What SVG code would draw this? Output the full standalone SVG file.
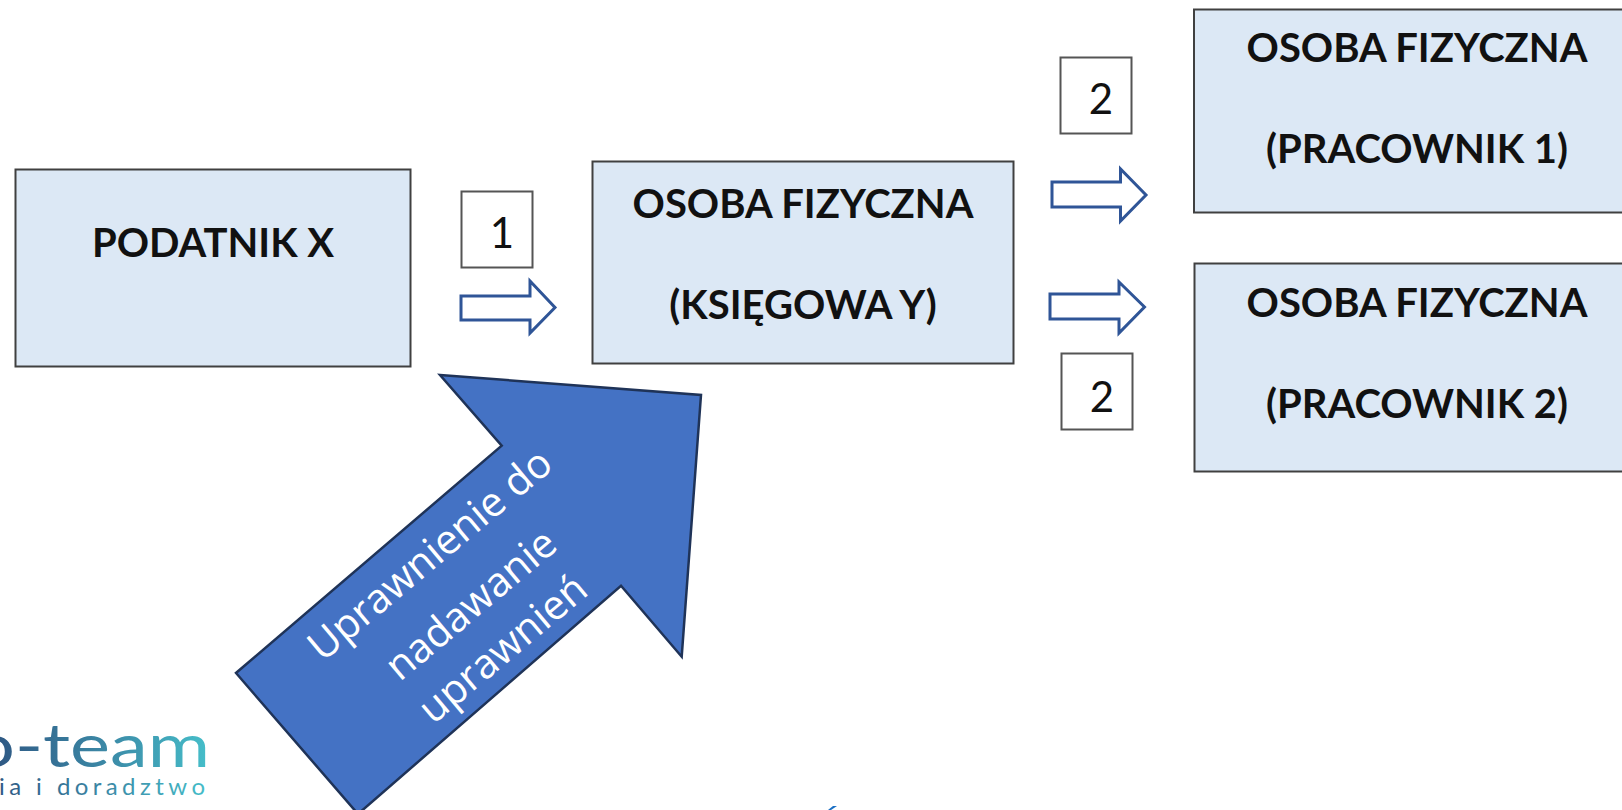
<svg xmlns="http://www.w3.org/2000/svg" width="1622" height="810" viewBox="0 0 1622 810">
<style>
.box{fill:#dce8f5;stroke:#404040;stroke-width:2}
.num{fill:#fff;stroke:#555;stroke-width:2}
.t{font-family:Lato,"Liberation Sans",sans-serif;font-weight:700;font-size:40px;fill:#111;text-anchor:middle}
.n{font-family:Lato,"Liberation Sans",sans-serif;font-size:42px;fill:#111;text-anchor:middle}
.arr{fill:#fff;stroke:#2f5597;stroke-width:3}
.w{font-family:"Open Sans","Liberation Sans",sans-serif;font-size:41px;fill:#fff;text-anchor:middle}
.l{font-family:Lato,"Noto Sans",sans-serif;fill:url(#lg)}
</style>
<defs>
<linearGradient id="lg" gradientUnits="userSpaceOnUse" x1="0" y1="0" x2="205" y2="0">
<stop offset="0" stop-color="#2f5a85"/><stop offset="0.5" stop-color="#3b87a5"/><stop offset="1" stop-color="#45bcc8"/>
</linearGradient>
</defs>
<rect width="1622" height="810" fill="#fff"/>
<g id="podatnik"><rect class="box" x="15.5" y="169.5" width="395" height="197"/><text class="t" x="213" y="257">PODATNIK X</text></g>
<g id="ksiegowa"><rect class="box" x="592.500" y="161.500" width="421" height="202"/><text class="t" x="803" y="218">OSOBA FIZYCZNA</text><text class="t" x="803" y="319">(KSIĘGOWA Y)</text></g>
<g id="pracownik1"><rect class="box" x="1194" y="9.500" width="440" height="203"/><text class="t" x="1417" y="62">OSOBA FIZYCZNA</text><text class="t" x="1417" y="163">(PRACOWNIK 1)</text></g>
<g id="pracownik2"><rect class="box" x="1194.500" y="263.500" width="440" height="208"/><text class="t" x="1417" y="317">OSOBA FIZYCZNA</text><text class="t" x="1417" y="418">(PRACOWNIK 2)</text></g>
<g id="n1"><rect class="num" x="461.500" y="191.500" width="71" height="76"/><text class="n" x="502" y="248">1</text></g>
<g id="n2a"><rect class="num" x="1060.500" y="57.500" width="71" height="76"/><text class="n" x="1101" y="114">2</text></g>
<g id="n2b"><rect class="num" x="1061.500" y="353.500" width="71" height="76"/><text class="n" x="1102" y="412">2</text></g>
<g id="connectors">
<path class="arr" d="M461 296H530V281L555 307.500L530 333V320H461Z"/>
<path class="arr" d="M1052 182H1120.500V169L1146 195L1120.500 221V207H1052Z"/>
<path class="arr" d="M1050 294H1119V282L1144.500 307L1119 333V319H1050Z"/>
</g>
<g id="uprawnienie">
<path d="M440 375L701 395L681.700 656.700L621 585.700L358 814L236 673L501.700 445.700Z" fill="#4472c4" stroke="#1f3358" stroke-width="2.500"/>
<text class="w" transform="translate(431 556) rotate(-40)" y="12">Uprawnienie do</text>
<text class="w" transform="translate(472 606) rotate(-40)" y="12">nadawanie</text>
<text class="w" transform="translate(504 650) rotate(-40)" y="12">uprawnień</text>
</g>
<g id="logo">
<text class="l" x="-28" y="767" font-size="60" textLength="238" lengthAdjust="spacingAndGlyphs">o-team</text>
<text class="l" x="-1" y="795" font-size="24" textLength="206" lengthAdjust="spacing">ia i doradztwo</text>
</g>
<path id="accent" d="M828 810L833 806H837L831 810Z" fill="#1a6fc4"/>
</svg>
